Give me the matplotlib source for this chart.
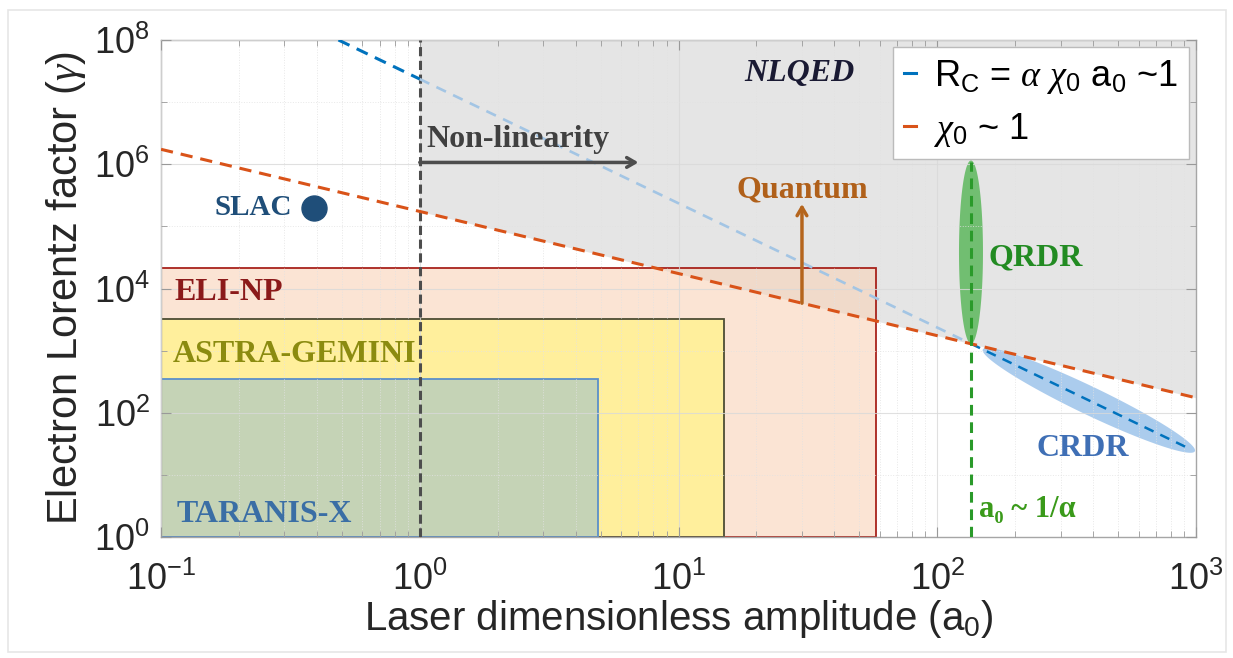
import numpy as np
import matplotlib
matplotlib.use('Agg')
import matplotlib.pyplot as plt
from matplotlib.patches import Rectangle, Polygon
from matplotlib.lines import Line2D
from matplotlib.ticker import LogLocator, NullFormatter, FixedLocator

plt.rcParams['font.family'] = ['Liberation Sans', 'DejaVu Sans']
plt.rcParams['mathtext.fontset'] = 'custom'
plt.rcParams['mathtext.rm'] = 'Liberation Sans'
plt.rcParams['mathtext.it'] = 'Liberation Serif:italic'
plt.rcParams['mathtext.bf'] = 'Liberation Serif:bold'

SERIF = ['Liberation Serif', 'DejaVu Serif']

# axis ticks
x_ticks = [0.1, 1, 10, 100, 1000]
y_ticks = [1, 1e2, 1e4, 1e6, 1e8]

# laser facilities: boxes from a0=0.1, gamma=1 up to these limits
facilities = ['ELI-NP', 'ASTRA-GEMINI', 'TARANIS-X']
facility_a0_max = [58, 15, 4.9]
facility_gamma_max = [2.1e4, 3.2e3, 3.5e2]

# chi_0 ~ 1 line (end points)
chi_a0 = [0.1, 1000]
chi_gamma = [1.74e6, 174]

# R_C = alpha chi_0 a0 ~ 1 line, in three pieces
rc_a0_left = [0.485, 1]
rc_gamma_left = [1e8, 2.35e7]
rc_a0_mid = [1, 135]
rc_gamma_mid = [2.35e7, 1290]
rc_a0_right = [135, 950]
rc_gamma_right = [1290, 26]

# NLQED shaded region: a0 > 1, above chi_0 ~ 1
nlqed_a0 = [1, 1000]
nlqed_gamma_low = [1.74e5, 174]
gamma_top = 1e8

# a0 ~ 1/alpha
a0_alpha = 135
qrdr_gamma = [1290, 1.15e6]
crdr_a0 = [150, 990]
crdr_gamma = [1044, 24]

# SLAC point
slac_a0 = 0.39
slac_gamma = 2.0e5

# arrows
nonlin_a0 = [1, 7]
nonlin_gamma = 1.07e6
quantum_a0 = 30
quantum_gamma = [5.8e3, 2.3e5]

fig = plt.figure(figsize=(12.33, 6.58), dpi=100)
ax = fig.add_axes([0.1306, 0.1839, 0.8394, 0.7553])
ax.set_xscale('log')
ax.set_yscale('log')
ax.set_xlim(0.1, 1000)
ax.set_ylim(1, 1e8)

# shaded NLQED region
ax.fill_between(nlqed_a0, nlqed_gamma_low, gamma_top, color='#E3E3E3',
                alpha=0.9, lw=0, zorder=0.5)

# facility boxes
face = ['#F9D3B8', '#FFEF9C', '#C5D3B6']
edge = ['#A8231C', '#4D4D33', '#5B8FC9']
alpha = [0.6, 1.0, 1.0]
for i in range(len(facilities)):
    ax.add_patch(Rectangle((0.1, 1), facility_a0_max[i] - 0.1, facility_gamma_max[i] - 1,
                           facecolor=face[i], edgecolor='none', alpha=alpha[i], zorder=1))
    ax.add_patch(Rectangle((0.1, 1), facility_a0_max[i] - 0.1, facility_gamma_max[i] - 1,
                           facecolor='none', edgecolor=edge[i], lw=1.3, zorder=1.1))


def region_ellipse(a0_pair, gamma_pair, half_width_px, **kw):
    # ellipse drawn in screen space between two data points
    p = ax.transData.transform(np.column_stack([a0_pair, gamma_pair]))
    c = p.mean(axis=0)
    d = p[1] - p[0]
    half_len = np.hypot(d[0], d[1]) / 2
    ang = np.arctan2(d[1], d[0])
    t = np.linspace(0, 2 * np.pi, 240)
    ex = half_len * np.cos(t)
    ey = half_width_px * np.sin(t)
    xr = c[0] + ex * np.cos(ang) - ey * np.sin(ang)
    yr = c[1] + ex * np.sin(ang) + ey * np.cos(ang)
    pts = ax.transData.inverted().transform(np.column_stack([xr, yr]))
    ax.add_patch(Polygon(pts, closed=True, lw=0, **kw))


region_ellipse([a0_alpha, a0_alpha], qrdr_gamma, 12, facecolor='#5DB85D', alpha=0.85, zorder=2)
region_ellipse(crdr_a0, crdr_gamma, 14, facecolor='#9DC3EA', alpha=0.85, zorder=2)

# lines
ax.plot([1, 1], [1, gamma_top], color='#4D4D4D', lw=2.2, dashes=(3, 1.5), zorder=3)
ax.plot(chi_a0, chi_gamma, color='#D95319', lw=2.2, dashes=(4, 2.6), zorder=3.2)
ax.plot(rc_a0_left, rc_gamma_left, color='#0072BD', lw=2.2, dashes=(4, 2.6), zorder=3.1)
ax.plot(rc_a0_mid, rc_gamma_mid, color='#A3C5E4', lw=1.9, dashes=(4, 3), zorder=3.1)
ax.plot(rc_a0_right, rc_gamma_right, color='#0072BD', lw=1.8, dashes=(4, 3), zorder=3.1)
ax.plot([a0_alpha, a0_alpha], [1, qrdr_gamma[1] * 0.95], color='#2A9A2A', lw=2.2,
        dashes=(3.5, 2.2), zorder=3.3)

# SLAC
ax.plot(slac_a0, slac_gamma, 'o', ms=18, color='#1F4E79', zorder=4)

# arrows
ax.annotate('', xy=(nonlin_a0[1], nonlin_gamma), xytext=(nonlin_a0[0], nonlin_gamma),
            arrowprops=dict(arrowstyle='->,head_length=0.6,head_width=0.35', lw=2.5,
                            color='#4D4D4D', shrinkA=0, shrinkB=0), zorder=4)
ax.annotate('', xy=(quantum_a0, quantum_gamma[1]), xytext=(quantum_a0, quantum_gamma[0]),
            arrowprops=dict(arrowstyle='->,head_length=0.6,head_width=0.35', lw=2.5,
                            color='#B5651D', shrinkA=0, shrinkB=0), zorder=4)

# labels
tk = dict(family=SERIF, fontweight='bold', va='center', zorder=5)
ax.text(29.2, 2.85e7, 'NLQED', color='#1A1A33', fontsize=23, style='italic', ha='center', **tk)
ax.text(1.06, 2.5e6, 'Non-linearity', color='#404040', fontsize=23, ha='left', **tk)
ax.text(0.161, 2.0e5, 'SLAC', color='#1F4E79', fontsize=21, ha='left', **tk)
ax.text(30, 3.9e5, 'Quantum', color='#B0601A', fontsize=23, ha='center', **tk)
ax.text(158, 3.1e4, 'QRDR', color='#228B22', fontsize=23, ha='left', **tk)
ax.text(366, 27, 'CRDR', color='#3F6FB5', fontsize=23, ha='center', **tk)
ax.text(145, 2.73, 'a₀ ~ 1/α', color='#3A9A1A', fontsize=22, ha='left', **tk)
ax.text(0.113, 8.5e3, 'ELI-NP', color='#8B1A1A', fontsize=23, ha='left', **tk)
ax.text(0.111, 863, 'ASTRA-GEMINI', color='#8B8B10', fontsize=23, ha='left', **tk)
ax.text(0.115, 2.3, 'TARANIS-X', color='#3A6EA5', fontsize=23, ha='left', **tk)

# axes styling
ax.xaxis.set_major_locator(FixedLocator(x_ticks))
ax.xaxis.set_minor_locator(LogLocator(base=10, subs=np.arange(2, 10), numticks=20))
ax.xaxis.set_minor_formatter(NullFormatter())
ax.yaxis.set_major_locator(FixedLocator(y_ticks))
ax.yaxis.set_minor_locator(FixedLocator([10, 1e3, 1e5, 1e7]))
ax.yaxis.set_minor_formatter(NullFormatter())
ax.grid(True, which='major', color='#D9D9D9', lw=0.8, alpha=0.8)
ax.grid(True, which='minor', color='#E2E2E2', lw=0.7, ls=':', alpha=0.8)
ax.set_axisbelow(False)
ax.tick_params(which='both', direction='in', top=True, right=True, colors='#999999',
               labelcolor='#262626', labelsize=26)
ax.tick_params(which='major', length=7)
ax.tick_params(axis='x', which='major', pad=18)
ax.tick_params(axis='y', which='major', pad=8)
ax.tick_params(which='minor', length=4)
for s in ax.spines.values():
    s.set_color('#A6A6A6')
    s.set_linewidth(1.0)

ax.set_xlabel(r'Laser dimensionless amplitude ($\mathrm{a_0}$)', fontsize=29,
              color='#262626', labelpad=0)
ax.set_ylabel(r'Electron Lorentz factor ($\gamma$)', fontsize=30, color='#262626',
              labelpad=4)

handles = [Line2D([], [], color='#0072BD', lw=2.2), Line2D([], [], color='#D95319', lw=2.2)]
labels = [r'$\mathrm{R_C}$ = $\alpha$ $\chi_0$ $\mathrm{a_0}$ ~1', r'$\chi_0$ ~ 1']
leg = ax.legend(handles, labels, loc='upper right', fontsize=26, handlelength=0.35,
                handletextpad=0.5, borderaxespad=0.2, labelspacing=0.4,
                fancybox=False, framealpha=1, edgecolor='#BBBBBB', borderpad=0.3)
leg.set_zorder(6)
leg.get_frame().set_linewidth(1.0)

fig.patches.append(Rectangle((8 / 1233, 6 / 658), 1218 / 1233, 642 / 658,
                             transform=fig.transFigure, fill=False,
                             edgecolor='#E6E6E6', lw=1.2))

fig.savefig('out.png', dpi=100)
